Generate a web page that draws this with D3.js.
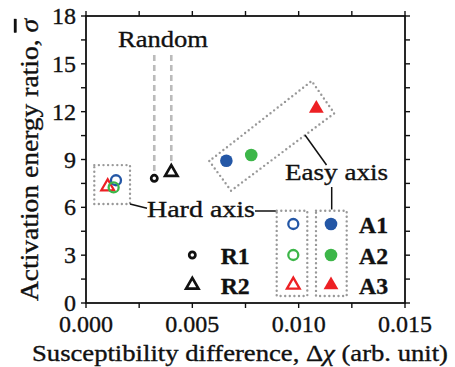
<!DOCTYPE html>
<html><head><meta charset="utf-8">
<script src="https://cdn.jsdelivr.net/npm/d3@7"></script>
</head>
<body style="margin:0;background:#fff"><svg id="c" width="455" height="367" font-family="Liberation Serif" fill="#111"></svg>
<script>
// ---- data ----
const xTicks = [0, 0.005, 0.010, 0.015];
const xTickLabels = ["0.000","0.005","0.010","0.015"];
const yTicks = [0,3,6,9,12,15,18];
const seriesNames = ["A1","A2","A3"];
const seriesColors = ["#2457a6","#3db649","#ed2024"];
const seriesShapes = ["circle","circle","triangle"];
const hardX = [0.00141, 0.00130, 0.00102];
const hardY = [7.70, 7.25, 7.30];
const easyX = [0.00660, 0.00777, 0.01083];
const easyY = [8.92, 9.28, 12.20];
const randomNames = ["R1","R2"];
const randomShapes = ["circle","triangle"];
const randomX = [0.00321, 0.00401];
const randomY = [7.82, 8.20];

const svg = d3.select("#c");
const FONT = "Liberation Serif";
const x = d3.scaleLinear().domain([0,0.015]).range([86,405]);
const y = d3.scaleLinear().domain([0,18]).range([303,16]);

const dotted = s => s.attr("fill","none").attr("stroke","#999").attr("stroke-width",2.4)
  .attr("stroke-linecap","round").attr("stroke-dasharray","0,4.6");
const txt = (g,xx,yy,size) => g.append("text").attr("x",xx).attr("y",yy)
  .attr("font-family",FONT).attr("font-size",size).attr("fill","#111")
  .attr("stroke","#111").attr("stroke-width",0.35);

// frame
svg.append("rect").attr("x",86).attr("y",16).attr("width",319).attr("height",287)
  .attr("fill","none").attr("stroke","#111").attr("stroke-width",1.8);

const xMinor = d3.range(0,0.0151,0.0025);
const yMinor = d3.range(0,18.1,1.5);
const tk = svg.append("g").attr("stroke","#111").attr("stroke-width",1.4);
xMinor.forEach(v=>{
  tk.append("line").attr("x1",x(v)).attr("x2",x(v)).attr("y1",303).attr("y2",308);
  tk.append("line").attr("x1",x(v)).attr("x2",x(v)).attr("y1",16).attr("y2",11);
});
yMinor.forEach(v=>{
  tk.append("line").attr("y1",y(v)).attr("y2",y(v)).attr("x1",86).attr("x2",81);
  tk.append("line").attr("y1",y(v)).attr("y2",y(v)).attr("x1",405).attr("x2",410);
});
xTicks.forEach((v,i)=>{
  txt(svg,x(v),332,24).attr("text-anchor","middle").text(xTickLabels[i]);
});
yTicks.forEach(v=>{
  txt(svg,76,y(v)+8,24).attr("text-anchor","end").text(v);
});

// axis titles
const xt = txt(svg,32,361,24).attr("textLength",416).attr("lengthAdjust","spacingAndGlyphs");
xt.append("tspan").text("Susceptibility difference, Δ");
xt.append("tspan").attr("font-style","italic").text("χ");
xt.append("tspan").text(" (arb. unit)");
const yt = svg.append("text").attr("transform","translate(38,301) rotate(-90)")
  .attr("font-family",FONT).attr("font-size",25).attr("fill","#111")
  .attr("stroke","#111").attr("stroke-width",0.35)
  .attr("textLength",282).attr("lengthAdjust","spacingAndGlyphs");
yt.append("tspan").text("Activation energy ratio, ");
yt.append("tspan").attr("font-style","italic").attr("text-decoration","overline").text("σ");

// symbol helper
function sym(g, shape, cx, cy, color, filled){
  if(shape==="circle"){
    g.append("circle").attr("cx",cx).attr("cy",cy)
      .attr("r",filled?6.3:5)
      .attr("fill",filled?color:"none").attr("stroke",color)
      .attr("stroke-width",filled?0:2.3);
  } else {
    const p = d3.symbol().type(d3.symbolTriangle).size(filled?95:70)();
    g.append("path").attr("d",p).attr("transform",`translate(${cx},${cy})`)
      .attr("fill",filled?color:"none").attr("stroke",color)
      .attr("stroke-width",filled?0:2.3);
  }
}
function rsym(g, shape, cx, cy){
  if(shape==="circle"){
    g.append("circle").attr("cx",cx).attr("cy",cy).attr("r",3.1)
      .attr("fill","none").attr("stroke","#111").attr("stroke-width",2.7);
  } else {
    g.append("path").attr("d",d3.symbol().type(d3.symbolTriangle).size(66)())
      .attr("transform",`translate(${cx},${cy})`)
      .attr("fill","none").attr("stroke","#111").attr("stroke-width",2.7);
  }
}

// random dashed lines
randomX.forEach((v,i)=>{
  svg.append("line").attr("x1",x(v)).attr("x2",x(v)).attr("y1",y(15.55)).attr("y2",y(randomY[i])-(i?8:6))
    .attr("stroke","#bbb").attr("stroke-width",2.6).attr("stroke-dasharray","6,4");
});
txt(svg,x(0.00362),47,24).attr("text-anchor","middle")
  .attr("textLength",90).attr("lengthAdjust","spacingAndGlyphs").text("Random");

// hard axis box
svg.append("rect").attr("x",x(0.00039)).attr("y",y(8.65))
  .attr("width",x(0.00207)-x(0.00039)).attr("height",y(6.21)-y(8.65)).call(dotted);

// easy axis box (rotated)
const easyBox = [[0.005798,8.906],[0.006818,7.043],[0.011676,11.898],[0.010613,13.923]];
svg.append("path").attr("d",d3.line().x(d=>x(d[0])).y(d=>y(d[1])).curve(d3.curveLinearClosed)(easyBox)).call(dotted);

// connector lines
const cl = svg.append("g").attr("stroke","#111").attr("stroke-width",1.5);
cl.append("line").attr("x1",130).attr("y1",204).attr("x2",147).attr("y2",208.3);
cl.append("line").attr("x1",255).attr("y1",211).attr("x2",276.7).attr("y2",211);
cl.append("line").attr("x1",305).attr("y1",135).attr("x2",326.5).attr("y2",165);
cl.append("line").attr("x1",331.7).attr("y1",187).attr("x2",331.7).attr("y2",209.5);

txt(svg,147,217,24).attr("textLength",108).attr("lengthAdjust","spacingAndGlyphs").text("Hard axis");
txt(svg,285,180,24).attr("textLength",103).attr("lengthAdjust","spacingAndGlyphs").text("Easy axis");

// data marks
const pts = svg.append("g");
[2,0,1].forEach(i=> sym(pts, seriesShapes[i], x(hardX[i]), y(hardY[i]), seriesColors[i], false));
easyX.forEach((v,i)=> sym(pts, seriesShapes[i], x(v), y(easyY[i]), seriesColors[i], true));
randomX.forEach((v,i)=> rsym(pts, randomShapes[i], x(v), y(randomY[i])));

// legend
const rows=[224,255,285];
svg.append("rect").attr("x",276.7).attr("y",210.7).attr("width",30.6).attr("height",85.3).call(dotted);
svg.append("rect").attr("x",316).attr("y",210.7).attr("width",30.7).attr("height",85.3).call(dotted);
const lg = svg.append("g");
seriesNames.forEach((n,i)=>{
  sym(lg, seriesShapes[i], 293.3, rows[i], seriesColors[i], false);
  sym(lg, seriesShapes[i], 331, rows[i], seriesColors[i], true);
  txt(lg,359,rows[i]+9,24).attr("font-weight","bold")
    .attr("textLength",29).attr("lengthAdjust","spacingAndGlyphs").text(n);
});
randomNames.forEach((n,i)=>{
  const cy=rows[i+1];
  rsym(lg, randomShapes[i], 192.3, cy);
  txt(lg,220.7,cy+9,24).attr("font-weight","bold")
    .attr("textLength",29).attr("lengthAdjust","spacingAndGlyphs").text(n);
});
</script></body></html>
